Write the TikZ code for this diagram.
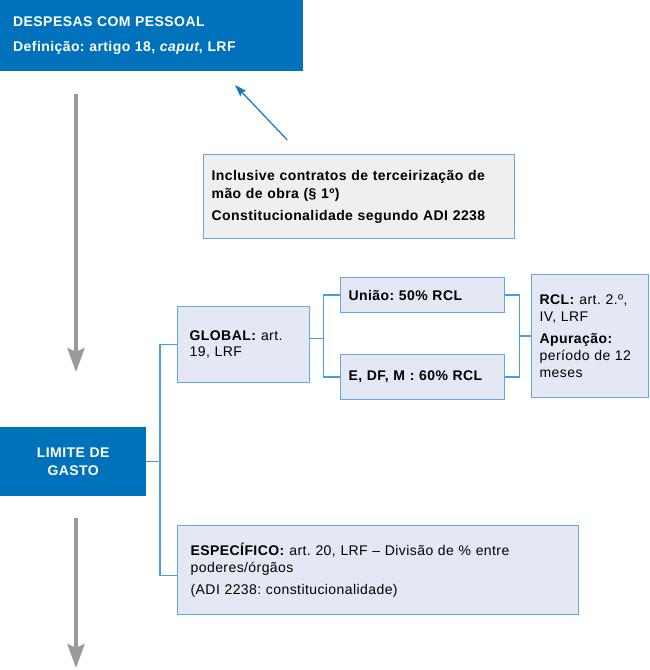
\documentclass[tikz,border=0pt]{standalone}
\usepackage{fontspec}
\setmainfont{Liberation Sans}[LetterSpace=3]
\usetikzlibrary{arrows.meta}
\definecolor{hdblue}{HTML}{0072BC}
\definecolor{boxline}{HTML}{62ABDD}
\definecolor{lightfill}{HTML}{E3E8F4}
\definecolor{grayfill}{HTML}{EFEFEF}
\definecolor{arrowgray}{HTML}{9A9A9C}
\definecolor{linkblue}{HTML}{4A9FD8}
\definecolor{tipblue}{HTML}{1A75BB}
\frenchspacing
\begin{document}
\begin{tikzpicture}[x=1pt,y=-1pt,
  hdbox/.style={fill=hdblue, text=white, anchor=north west, inner ysep=0pt, font=\bfseries\fontsize{14}{17.3}\selectfont},
  lbox/.style={fill=lightfill, draw=boxline, line width=1.3pt, anchor=north west, inner ysep=0pt, align=left, font=\fontsize{14}{16.6}\selectfont},
  gbox/.style={lbox, fill=grayfill, font=\bfseries\fontsize{14}{18.5}\selectfont},
  link/.style={draw=linkblue, line width=1.4pt},
  bigarrow/.style={draw=arrowgray, line width=4.5pt, -{Stealth[length=24pt,width=17pt,inset=4pt]}},
  thinarrow/.style={draw=tipblue, line width=1.2pt, -{Stealth[length=12pt,width=8pt,inset=2pt]}}
]
\useasboundingbox (0,0) rectangle (649,670);

% header boxes
\node[hdbox, minimum width=303pt, minimum height=71pt, inner xsep=13pt, text width=277pt, align=left] (top) at (0,0)
  {DESPESAS COM PESSOAL\\[7pt]Definição: artigo 18, \textit{caput}, LRF};
\node[hdbox, minimum width=146pt, minimum height=69pt, inner xsep=8pt, text width=130pt, align=center] (limite) at (0,427)
  {LIMITE DE\\GASTO};

% note box
\node[gbox, minimum width=311pt, minimum height=84pt, inner xsep=8pt, text width=295pt] (nota) at (203,154)
  {Inclusive contratos de terceirização de\\mão de obra (§ 1º)\\[3pt]Constitucionalidade segundo ADI 2238};

% limit boxes
\node[lbox, minimum width=132pt, minimum height=76pt, inner xsep=12pt, text width=108pt] (global) at (177,306)
  {\textbf{GLOBAL:} art.\\19, LRF};
\node[lbox, minimum width=164pt, minimum height=35pt, inner xsep=8pt, text width=148pt] (uniao) at (340,277)
  {\textbf{União: 50\% RCL}};
\node[lbox, minimum width=164pt, minimum height=45pt, inner xsep=8pt, text width=148pt] (edfm) at (340,354)
  {\textbf{E, DF, M : 60\% RCL}};
\node[lbox, minimum width=117pt, minimum height=123pt, inner xsep=8pt, text width=101pt] (rcl) at (531,274)
  {\textbf{RCL:} art. 2.º,\\IV, LRF\\[6pt]\textbf{Apuração:}\\período de 12\\meses};
\node[lbox, minimum width=401pt, minimum height=89pt, inner xsep=13pt, text width=375pt] (espec) at (177,525)
  {\textbf{ESPECÍFICO:} art. 20, LRF – Divisão de \% entre\\poderes/órgãos\\[5pt](ADI 2238: constitucionalidade)};

% junction columns
\coordinate (jx) at (160,0);
\coordinate (jx2) at (323.3,0);
\coordinate (jx3) at (519.3,0);

% connectors
\draw[link] (limite.east) -- (limite.east -| jx);
\draw[link] (global.west) -- (global.west -| jx) -- ([yshift=-5.5pt]espec.west -| jx) -- ([yshift=-5.5pt]espec.west);
\draw[link] ([yshift=6pt]global.east) -- ([yshift=6pt]global.east -| jx2);
\draw[link] (uniao.west) -- (uniao.west -| jx2) -- (edfm.west -| jx2) -- (edfm.west);
\draw[link] (uniao.east) -- (uniao.east -| jx3) -- (edfm.east -| jx3) -- (edfm.east);
\draw[link] (rcl.west) -- (rcl.west -| jx3);

% big gray arrows
\coordinate (a1s) at (76,94);
\coordinate (a1e) at (76,372);
\coordinate (a2s) at (76,518);
\coordinate (a2e) at (76,668);
\draw[bigarrow] (a1s) -- (a1e);
\draw[bigarrow] (a2s) -- (a2e);

% thin blue arrow
\coordinate (bt) at (287.3,140);
\coordinate (bh) at (235,85);
\draw[thinarrow] (bt) -- (bh);
\end{tikzpicture}
\end{document}
